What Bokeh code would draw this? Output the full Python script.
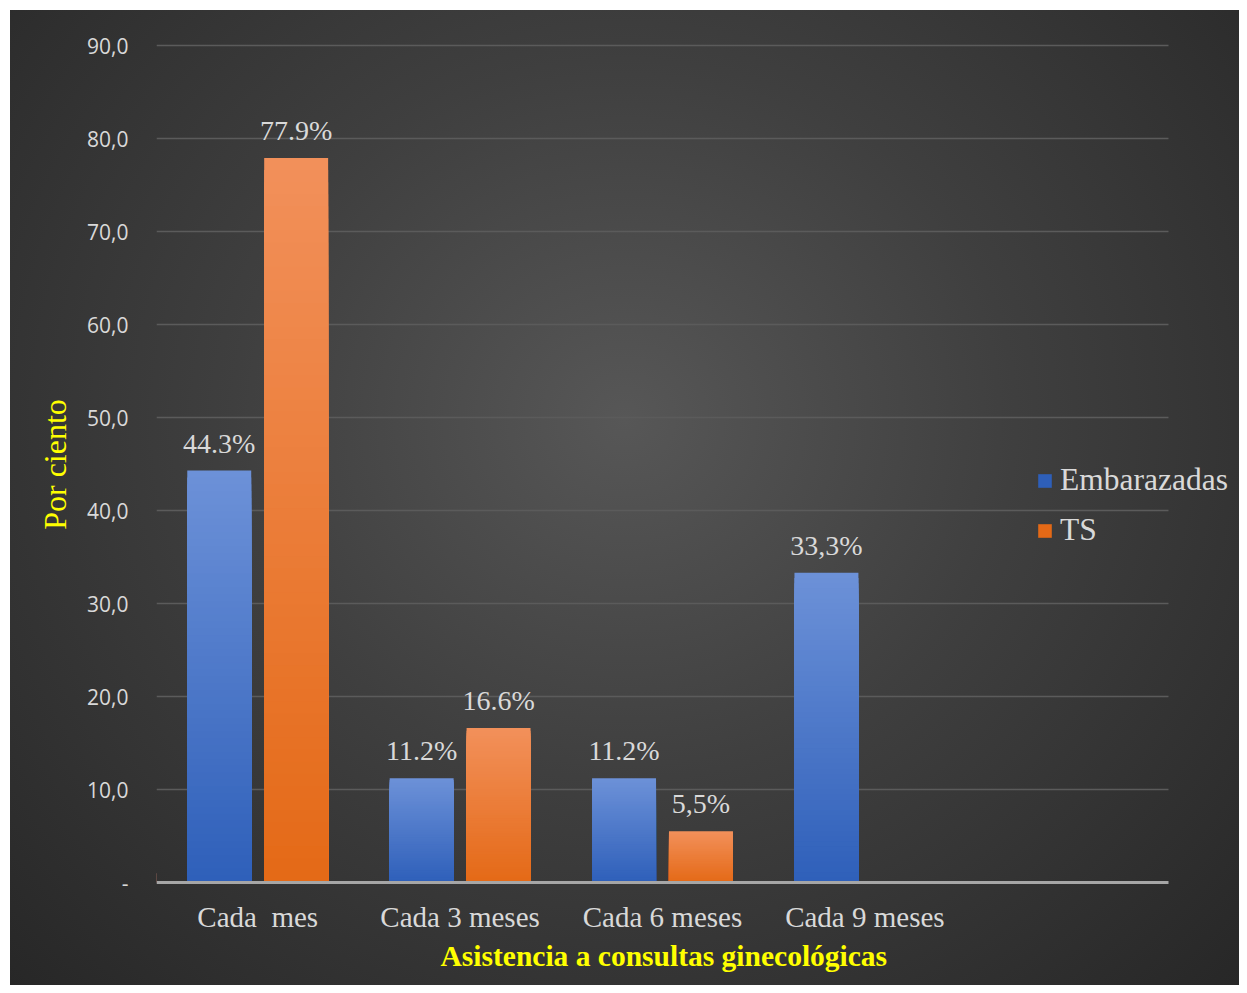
from bokeh.plotting import figure
from bokeh.models import Range1d, ColumnDataSource, Legend, LegendItem, FixedTicker, CustomJSTickFormatter, Title
from bokeh.embed import file_html
from bokeh.resources import INLINE
from bokeh.core.properties import value

categories = ["Cada \u00a0mes", "Cada 3 meses", "Cada 6 meses", "Cada 9 meses"]
n_slots = 5  # the chart keeps an empty fifth slot on the right
embarazadas = [44.3, 11.2, 11.2, 33.3]
ts = [77.9, 16.6, 5.5]
emb_labels = ["44.3%", "11.2%", "11.2%", "33,3%"]
ts_labels = ["77.9%", "16.6%", "5,5%"]
y_ticks = [0, 10, 20, 30, 40, 50, 60, 70, 80, 90]
x_title = "Asistencia a consultas ginecológicas"
y_title = "Por ciento"

BLUE_TOP = (0x6c, 0x91, 0xd8)
BLUE_BOT = (0x2e, 0x5f, 0xb9)
ORNG_TOP = (0xf2, 0x90, 0x5a)
ORNG_BOT = (0xe4, 0x69, 0x16)
GREY = "#d9d9d9"
SERIF = "Liberation Serif"

W, H = 1239, 985
FL, FR, FT, FB = 156, 1239, 43, 885   # frame edges in figure pixels
PX_PER_CAT = (1168 - 156) / n_slots
x_end = (FR - FL) / PX_PER_CAT
px_per_unit = (882 - 45) / 90.0
y_start = -(FB - 882) / px_per_unit
y_end = 90 + (45 - FT) / px_per_unit

p = figure(x_range=Range1d(0, x_end), y_range=Range1d(y_start, y_end),
           width=W, height=H, output_backend="svg", toolbar_location=None,
           min_border_left=FL, min_border_right=W - FR, min_border_top=FT,
           min_border_bottom=H - FB)
p.background_fill_alpha = 0
p.border_fill_alpha = 0
p.outline_line_color = None
p.styles = {
    "background": "radial-gradient(ellipse at 50% 42%, #575757 0%, #3f3f3f 45%, #272727 100%) "
                  "10px 10px / calc(100% - 10px) calc(100% - 10px) no-repeat, #ffffff"
}

p.xgrid.grid_line_color = None
p.ygrid.grid_line_color = None

# horizontal gridlines across the five slots
grid_src = ColumnDataSource(dict(y=y_ticks[1:]))
p.segment(x0=0, x1=n_slots, y0="y", y1="y", source=grid_src, line_color="#5b5b5b", line_width=1.5)

cat_pos = [i + 0.5 for i in range(len(categories))]

p.yaxis.ticker = FixedTicker(ticks=y_ticks)
p.yaxis.formatter = CustomJSTickFormatter(code="return tick == 0 ? '-' : tick.toFixed(1).replace('.', ',');")
p.yaxis.axis_line_color = None
p.yaxis.major_tick_line_color = None
p.yaxis.minor_tick_line_color = None
p.yaxis.major_label_text_font = "Open Sans"
p.yaxis.major_label_text_font_size = "21px"
p.yaxis.major_label_text_color = GREY
p.yaxis.major_label_standoff = 22
p.yaxis.axis_label = y_title
p.yaxis.axis_label_text_font = SERIF
p.yaxis.axis_label_text_font_style = "normal"
p.yaxis.axis_label_text_font_size = "32px"
p.yaxis.axis_label_text_color = "#ffff00"
p.yaxis.axis_label_standoff = 11

p.xaxis.ticker = FixedTicker(ticks=cat_pos)
p.xaxis.major_label_overrides = {pos: c for pos, c in zip(cat_pos, categories)}
p.xaxis.axis_line_color = None
p.xaxis.major_tick_line_color = None
p.xaxis.minor_tick_line_color = None
p.xaxis.major_label_text_font = SERIF
p.xaxis.major_label_text_font_size = "29px"
p.xaxis.major_label_text_color = GREY
p.xaxis.major_label_standoff = 9

# x axis title centred under the five slots (not under the whole frame)
title_w = 444
t = Title(text=x_title, align="left", offset=(1168 + 156) / 2 - FL - title_w / 2,
          text_font=SERIF, text_font_style="bold", text_font_size="29.5px",
          text_color="#ffff00", standoff=5)
p.add_layout(t, "below")

NSEG = 60
BW = 0.316
OFF = 0.19

def hexc(c):
    return "#%02x%02x%02x" % tuple(int(round(v)) for v in c)

def gradient_bars(xpos, vals, top, bot):
    # overlapping bars from the base: tallest (lightest) first, shorter/darker on top
    xs, tops, cols = [], [], []
    for x, v in zip(xpos, vals):
        for i in range(NSEG):
            frac = (NSEG - i) / NSEG
            col = tuple(bot[k] + (top[k] - bot[k]) * frac for k in range(3))
            xs.append(x)
            tops.append(v * frac)
            cols.append(hexc(col))
    src = ColumnDataSource(dict(x=xs, top=tops, color=cols))
    p.vbar(x="x", bottom=0, top="top", width=BW, fill_color="color", line_color=None, source=src)

emb_x = [c - OFF for c in cat_pos]
ts_x = [c + OFF for c in cat_pos[:len(ts)]]
gradient_bars(emb_x, embarazadas, BLUE_TOP, BLUE_BOT)
gradient_bars(ts_x, ts, ORNG_TOP, ORNG_BOT)

# x axis line
p.segment(x0=[0], x1=[n_slots], y0=[0], y1=[0], line_color="#a6a6a6", line_width=3)

for xs_, ys_, ts_ in ((emb_x, embarazadas, emb_labels), (ts_x, ts, ts_labels)):
    src = ColumnDataSource(dict(x=xs_, y=ys_, t=ts_))
    p.text(x="x", y="y", text="t", source=src,
           text_font=value(SERIF), text_font_size="28px", text_color=GREY,
           text_align="center", text_baseline="bottom", y_offset=-12)

# legend proxies (outside visible range)
r1 = p.vbar(x=[-10], top=[1], width=0.1, fill_color=hexc(BLUE_BOT), line_color=None)
r2 = p.vbar(x=[-10], top=[1], width=0.1, fill_color=hexc(ORNG_BOT), line_color=None)
legend = Legend(items=[LegendItem(label="Embarazadas", renderers=[r1]), LegendItem(label="TS", renderers=[r2])],
                location=(1036 - FL, FB - 548), background_fill_alpha=0, border_line_color=None,
                label_text_font=SERIF, label_text_font_size="31.5px", label_text_color=GREY,
                glyph_width=17, glyph_height=17, label_height=32, spacing=14, label_standoff=7,
                padding=0, margin=0)
p.add_layout(legend, "center")

open("out.html", "w").write(file_html(p, INLINE))
